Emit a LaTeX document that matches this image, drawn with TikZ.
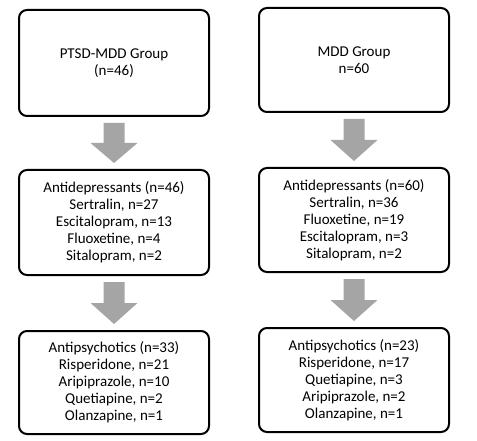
\documentclass[tikz,border=0pt]{standalone}
\usepackage{fontspec}
\setmainfont{Carlito}
\usetikzlibrary{calc}
\definecolor{arrowgray}{RGB}{165,165,165}
\tikzset{
  groupbox/.style={draw, line width=2pt, rounded corners=8pt, minimum width=190pt,
    minimum height=104pt, align=center, font=\fontsize{15}{17}\selectfont},
}
% gray block arrow between two boxes
\newcommand{\blockarrow}[2]{%
  \path ($(#1.south)+(0,6)$) coordinate (arrtop)
        ($(#1.south)!0.5!(#2.north)$) coordinate (arrmid)
        ($(#2.north)+(0,-6)$) coordinate (arrtip);
  \fill[arrowgray] ($(arrtop)+(-10.5,0)$) -- ($(arrtop)+(10.5,0)$) -- ($(arrmid)+(10.5,0)$)
    -- ($(arrmid)+(23.5,0)$) -- (arrtip) -- ($(arrmid)+(-23.5,0)$) -- ($(arrmid)+(-10.5,0)$) -- cycle;
}
\begin{document}
\begin{tikzpicture}[x=1pt,y=-1pt]
  \useasboundingbox (0,0) rectangle (477,441);
  % left column
  \node[groupbox, minimum height=106pt] (ptsd) at (114,63) {PTSD-MDD Group\\(n=46)};
  \node[groupbox, minimum height=105pt] (ptsdad) at (114,222.5)
    {Antidepressants (n=46)\\Sertralin, n=27\\Escitalopram, n=13\\Fluoxetine, n=4\\Sitalopram, n=2};
  \node[groupbox, minimum height=103pt] (ptsdap) at (114,382.5)
    {Antipsychotics (n=33)\\Risperidone, n=21\\Aripiprazole, n=10\\Quetiapine, n=2\\Olanzapine, n=1};
  % right column
  \node[groupbox] (mdd) at (354,60) {MDD Group\\n=60};
  \node[groupbox] (mddad) at (354,220)
    {Antidepressants (n=60)\\Sertralin, n=36\\Fluoxetine, n=19\\Escitalopram, n=3\\Sitalopram, n=2};
  \node[groupbox] (mddap) at (354,380)
    {Antipsychotics (n=23)\\Risperidone, n=17\\Quetiapine, n=3\\Aripiprazole, n=2\\Olanzapine, n=1};
  \blockarrow{ptsd}{ptsdad}
  \blockarrow{ptsdad}{ptsdap}
  \blockarrow{mdd}{mddad}
  \blockarrow{mddad}{mddap}
\end{tikzpicture}
\end{document}
